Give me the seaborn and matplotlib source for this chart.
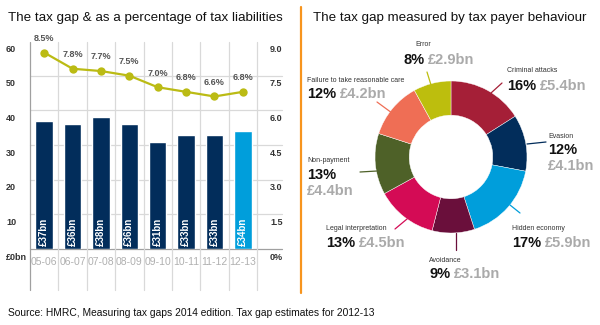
import numpy as np
import pandas as pd
import matplotlib
matplotlib.use("Agg")
import matplotlib.pyplot as plt
import matplotlib.transforms as mtransforms
from matplotlib.lines import Line2D
import seaborn as sns

# ---------------- data ----------------
periods = ["05-06", "06-07", "07-08", "08-09", "09-10", "10-11", "11-12", "12-13"]
gap_bn = [37, 36, 38, 36, 31, 33, 33, 34]
gap_pct = [8.5, 7.8, 7.7, 7.5, 7.0, 6.8, 6.6, 6.8]
left_ticks = [0, 10, 20, 30, 40, 50, 60]
left_tick_labels = ["£0bn", "10", "20", "30", "40", "50", "60"]
right_tick_labels = ["0%", "1.5", "3.0", "4.5", "6.0", "7.5", "9.0"]

behaviours = ["Criminal attacks", "Evasion", "Hidden economy", "Avoidance",
              "Legal interpretation", "Non-payment",
              "Failure to take reasonable care", "Error"]
share_pct = [16, 12, 17, 9, 13, 13, 12, 8]
share_bn = [5.4, 4.1, 5.9, 3.1, 4.5, 4.4, 4.2, 2.9]

# ---------------- style ----------------
sns.set_theme(style="white")
plt.rcParams["font.family"] = ["Liberation Sans", "DejaVu Sans"]

navy = "#022D5B"
light_blue = "#009EDB"
line_col = "#BBBB14"
slice_cols = ["#A51F37", "#022D5B", "#009EDB", "#6A0F3B",
              "#D40B55", "#4E6128", "#EF6E55", "#BDBE0D"]
grid_col = "#D9D9D9"
dark_grid = "#A0A0A0"

W, H = 600, 325
fig = plt.figure(figsize=(W / 100, H / 100), dpi=100)
fig.patch.set_facecolor("white")


def fx(px):
    return px / W


def fy(py):
    return 1 - py / H


# ---------------- left panel ----------------
ax_l, ax_r, ax_t, ax_b = 30, 257, 41, 249
ax = fig.add_axes([fx(ax_l), fy(ax_b), (ax_r - ax_l) / W, (ax_b - ax_t) / H])
df = pd.DataFrame({"period": periods, "gap": gap_bn,
                   "kind": ["past"] * (len(periods) - 1) + ["latest"]})
sns.barplot(data=df, x="period", y="gap", hue="kind",
            palette={"past": navy, "latest": light_blue},
            dodge=False, width=0.62, legend=False, saturation=1,
            ax=ax, zorder=3)
ax.set_xlim(-0.5, len(periods) - 0.5)
ax.set_ylim(0, 60)
ax.set_xlabel("")
ax.set_ylabel("")
ax.set_xticks([])
ax.set_yticks([])
for s in ax.spines.values():
    s.set_visible(False)
ax.patch.set_alpha(0)

px_per_unit = (ax_b - ax_t) / 60.0
for v in left_ticks[:-1]:
    ax.axhline(v, xmin=0, xmax=(282 - ax_l) / (ax_r - ax_l),
               color=dark_grid if v == 0 else grid_col, lw=0.9,
               clip_on=False, zorder=1)
ymin_ext = -(290 - ax_b) / (ax_b - ax_t)
ymax_ext = 1 - (42 - ax_t) / (ax_b - ax_t)
for i, b in enumerate(np.arange(-0.5, len(periods))):
    ax.axvline(b, ymin=ymin_ext, ymax=ymax_ext,
               color=dark_grid if i == 0 else grid_col, lw=0.9,
               clip_on=False, zorder=1)

tl = mtransforms.blended_transform_factory(fig.transFigure, ax.transData)
off = 3.5 / px_per_unit
for v, lab, rlab in zip(left_ticks, left_tick_labels, right_tick_labels):
    ax.text(fx(6), v - off, lab, transform=tl, ha="left", va="top",
            fontsize=6.5, fontweight="bold", color="#333333")
    ax.text(fx(270), v - off, rlab, transform=tl, ha="left", va="top",
            fontsize=6.5, fontweight="bold", color="#333333")

for i, p in enumerate(periods):
    ax.text(i, -13 / px_per_unit, p, ha="center", va="center",
            fontsize=7.5, color="#B0B0B0", clip_on=False)

for i, v in enumerate(gap_bn):
    ax.text(i, 2.5 / px_per_unit, f"£{v}bn", rotation=90, ha="center",
            va="bottom", fontsize=7, fontweight="bold", color="white",
            zorder=5)

ax2 = ax.twinx()
ax2.set_ylim(0, 9)
sns.lineplot(x=np.arange(len(periods)), y=gap_pct, color=line_col,
             marker="o", markersize=6, markeredgewidth=0, linewidth=1.6,
             ax=ax2, zorder=6)
ax2.set_xlim(-0.5, len(periods) - 0.5)
ax2.set_yticks([])
ax2.set_ylabel("")
for s in ax2.spines.values():
    s.set_visible(False)
for i, v in enumerate(gap_pct):
    ax2.annotate(f"{v:.1f}%", (i, v), xytext=(0, 7), textcoords="offset points",
                 ha="center", va="bottom", fontsize=6.5, fontweight="bold",
                 color="#555555")

fig.text(fx(8), fy(18), "The tax gap & as a percentage of tax liabilities",
         ha="left", va="center", fontsize=9.6, color="#111111")

fig.add_artist(Line2D([fx(300.5)] * 2, [fy(7), fy(293)], color="#F7941D", lw=1.6))

# ---------------- right panel: donut ----------------
cx, cy, r = 451, 157, 76
axp = fig.add_axes([fx(cx - r), fy(cy + r), 2 * r / W, 2 * r / H])
axp.pie(share_pct, colors=slice_cols, startangle=90, counterclock=False,
        radius=1, wedgeprops=dict(width=0.45, edgecolor="white", linewidth=0.3))
axp.set_xlim(-1, 1)
axp.set_ylim(-1, 1)
axp.set_axis_off()

fig.text(fx(313), fy(18), "The tax gap measured by tax payer behaviour",
         ha="left", va="center", fontsize=9.6, color="#111111")

label_specs = [
    (0, (507, 70), "one", (507, 86), ((491, 93), (502, 83))),
    (1, (548, 136), "two", (548, 150), ((527, 144), (546, 142))),
    (2, (512, 228), "one", (512, 243), ((510, 205), (520, 213))),
    (3, (429, 260), "one", (429, 274), ((456, 233), (456, 250))),
    (4, (326, 229), "one", (326, 243), ((395, 229), (407, 219))),
    (5, (307, 161), "two", (307, 175), ((360, 172), (377, 171))),
    (6, (307, 80), "one", (307, 94), ((377, 102), (392, 113))),
    (7, (415, 45), "one", (403, 60), ((427, 72), (431, 85))),
]
for idx, (sx, sy), mode, (bx, by), ((x0, y0), (x1, y1)) in label_specs:
    fig.text(fx(sx), fy(sy), behaviours[idx], ha="left", va="center",
             fontsize=5, color="#333333")
    pct_t = fig.text(fx(bx), fy(by), f"{share_pct[idx]}%", ha="left",
                     va="center", fontsize=10.5, fontweight="bold",
                     color="#111111")
    if mode == "one":
        axp.annotate(f"£{share_bn[idx]}bn", xy=(1, 0.5), xycoords=pct_t,
                     xytext=(3, 0), textcoords="offset points",
                     ha="left", va="center", fontsize=10.5,
                     fontweight="bold", color="#AAAAAA", annotation_clip=False)
    else:
        fig.text(fx(bx), fy(by + 16), f"£{share_bn[idx]}bn", ha="left",
                 va="center", fontsize=10.5, fontweight="bold",
                 color="#AAAAAA")
    fig.add_artist(Line2D([fx(x0), fx(x1)], [fy(y0), fy(y1)],
                          color=slice_cols[idx], lw=0.9))

fig.text(fx(8), fy(313),
         "Source: HMRC, Measuring tax gaps 2014 edition. Tax gap estimates for 2012-13",
         ha="left", va="center", fontsize=7.4, color="#111111")

fig.savefig("out.png", dpi=100, facecolor="white")
